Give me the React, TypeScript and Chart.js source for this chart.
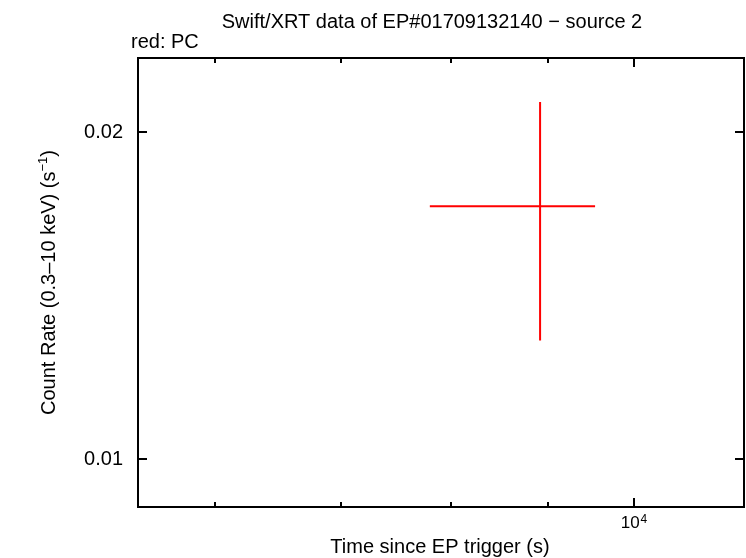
import { useEffect, useRef } from "react";
import { Chart, registerables } from "chart.js";
Chart.register(...registerables);

// data
const times = [8919];
const timeLow = [7798];
const timeHigh = [9537];
const rates = [0.01708];
const rateLow = [0.01285];
const rateHigh = [0.02131];

// axes
const xRange = [5465, 11434];
const yRange = [0.00903, 0.02339];
const xMajorTicks = [10000];
const xMajorBase = ["10"];
const xMajorExp = ["4"];
const xMinorTicks = [6000, 7000, 8000, 9000];
const yTicks = [0.01, 0.02];
const yTickLabels = ["0.01", "0.02"];

const titleText = "Swift/XRT data of EP#01709132140 \u2212 source 2";
const subtitleText = "red: PC";
const xTitle = "Time since EP trigger (s)";
const yTitleMain = "Count Rate (0.3\u201310 keV) (s";
const yTitleSup = "\u22121";
const yTitleEnd = ")";

const FONT = "'Liberation Sans', Arial, sans-serif";

const drawPlugin = {
  id: "xrtDraw",
  afterDraw(chart: any) {
    const ctx = chart.ctx as CanvasRenderingContext2D;
    const { left, right, top, bottom } = chart.chartArea;
    const xs = chart.scales.x;
    const ys = chart.scales.y;
    ctx.save();

    // error bars
    ctx.strokeStyle = "#ff0000";
    ctx.lineWidth = 2;
    for (let i = 0; i < times.length; i++) {
      const px = xs.getPixelForValue(times[i]);
      const py = ys.getPixelForValue(rates[i]);
      ctx.beginPath();
      ctx.moveTo(xs.getPixelForValue(timeLow[i]), py);
      ctx.lineTo(xs.getPixelForValue(timeHigh[i]), py);
      ctx.moveTo(px, ys.getPixelForValue(rateLow[i]));
      ctx.lineTo(px, ys.getPixelForValue(rateHigh[i]));
      ctx.stroke();
    }

    // frame
    ctx.strokeStyle = "#000";
    ctx.lineWidth = 2;
    ctx.strokeRect(left, top, right - left, bottom - top);

    // ticks
    ctx.beginPath();
    for (const v of xMajorTicks) {
      const p = Math.round(xs.getPixelForValue(v));
      ctx.moveTo(p, bottom); ctx.lineTo(p, bottom - 9);
      ctx.moveTo(p, top); ctx.lineTo(p, top + 9);
    }
    for (const v of xMinorTicks) {
      const p = Math.round(xs.getPixelForValue(v));
      ctx.moveTo(p, bottom); ctx.lineTo(p, bottom - 5);
      ctx.moveTo(p, top); ctx.lineTo(p, top + 5);
    }
    for (const v of yTicks) {
      const p = Math.round(ys.getPixelForValue(v));
      ctx.moveTo(left, p); ctx.lineTo(left + 9, p);
      ctx.moveTo(right, p); ctx.lineTo(right - 9, p);
    }
    ctx.stroke();

    ctx.fillStyle = "#000";
    // y tick labels
    ctx.font = `20px ${FONT}`;
    ctx.textAlign = "right";
    ctx.textBaseline = "middle";
    yTicks.forEach((v, i) => {
      ctx.fillText(yTickLabels[i], left - 15, ys.getPixelForValue(v) + 1);
    });

    // x tick labels with superscript
    xMajorTicks.forEach((v, i) => {
      const p = xs.getPixelForValue(v);
      ctx.font = `17px ${FONT}`;
      const wb = ctx.measureText(xMajorBase[i]).width;
      ctx.font = `12px ${FONT}`;
      const we = ctx.measureText(xMajorExp[i]).width;
      const start = p - (wb + we + 1) / 2;
      ctx.textAlign = "left";
      ctx.textBaseline = "alphabetic";
      ctx.font = `17px ${FONT}`;
      ctx.fillText(xMajorBase[i], start, 528);
      ctx.font = `12px ${FONT}`;
      ctx.fillText(xMajorExp[i], start + wb + 1, 523);
    });

    // titles
    ctx.font = `20px ${FONT}`;
    ctx.textAlign = "center";
    ctx.textBaseline = "alphabetic";
    ctx.fillText(titleText, (left + right) / 2 - 9, 28);
    ctx.textAlign = "left";
    ctx.fillText(subtitleText, left - 7, 48);
    ctx.textAlign = "center";
    ctx.fillText(xTitle, (left + right) / 2 - 1, 553);

    // y title rotated
    ctx.save();
    ctx.translate(55, (top + bottom) / 2);
    ctx.rotate(-Math.PI / 2);
    ctx.font = `20px ${FONT}`;
    const w1 = ctx.measureText(yTitleMain).width;
    const w3 = ctx.measureText(yTitleEnd).width;
    ctx.font = `13px ${FONT}`;
    const w2 = ctx.measureText(yTitleSup).width;
    const total = w1 + w2 + w3;
    const x0 = -total / 2;
    ctx.textAlign = "left";
    ctx.font = `20px ${FONT}`;
    ctx.fillText(yTitleMain, x0, 0);
    ctx.font = `13px ${FONT}`;
    ctx.fillText(yTitleSup, x0 + w1, -8);
    ctx.font = `20px ${FONT}`;
    ctx.fillText(yTitleEnd, x0 + w1 + w2, 0);
    ctx.restore();

    ctx.restore();
  },
};

export default function App() {
  const ref = useRef<HTMLCanvasElement | null>(null);
  useEffect(() => {
    if (!ref.current) return;
    const chart = new Chart(ref.current, {
      type: "scatter",
      data: {
        datasets: [
          {
            label: "PC",
            data: times.map((t, i) => ({ x: t, y: rates[i] })),
            pointRadius: 0,
            borderColor: "#ff0000",
            backgroundColor: "#ff0000",
          },
        ],
      },
      options: {
        animation: false,
        responsive: false,
        layout: { padding: { left: 138, top: 58, right: 2, bottom: 51 } },
        plugins: { legend: { display: false }, tooltip: { enabled: false }, title: { display: false } },
        scales: {
          x: { type: "logarithmic", min: xRange[0], max: xRange[1], display: false },
          y: { type: "logarithmic", min: yRange[0], max: yRange[1], display: false },
        },
      },
      plugins: [drawPlugin],
    });
    return () => chart.destroy();
  }, []);
  return (
    <div style={{ position: "absolute", left: 0, top: 0, width: 746, height: 558, background: "#fff" }}>
      <canvas ref={ref} width={746} height={558} style={{ width: 746, height: 558, display: "block" }} />
    </div>
  );
}
